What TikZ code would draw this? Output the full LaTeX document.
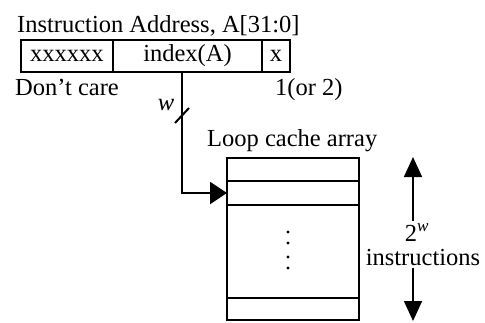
\documentclass[tikz,border=0pt]{standalone}
\usepackage{fontspec}
\setmainfont{Liberation Serif}
\usepackage{tikz}
\usetikzlibrary{calc,arrows.meta,positioning}

\begin{document}
\begin{tikzpicture}[x=1pt,y=-1pt,
    every node/.style={font=\fontsize{24.5}{28}\selectfont, inner sep=0pt},
    field/.style={draw, line width=2pt, outer sep=0pt, minimum height=32pt, anchor=west},
    slot/.style={draw, line width=2pt, outer sep=0pt, minimum width=132pt, anchor=north west},
    wire/.style={line width=2pt},
    darr/.style={line width=1.6pt, -{Triangle[length=20pt,width=18pt]}}]
    \useasboundingbox (0,0) rectangle (485,322);
    \clip (0,0) rectangle (485,322);

    % address bar
    \node[anchor=base west] (title) at (17,32) {Instruction Address, A[31:0]};
    \node[field, minimum width=92pt] (dc) at (21,56) {xxxxxx};
    \node[field, minimum width=149pt, right=0pt of dc] (idx) {index(A)};
    \node[field, minimum width=28pt, right=0pt of idx] (lsb) {x};
    \node[anchor=base west] (dclab) at (15,95) {Don't care};
    \node[anchor=base west] (lsblab) at (275,95) {1(or 2)};

    % loop cache array
    \node[anchor=base west] (arrlab) at (207,146) {Loop cache array};
    \node[slot, minimum height=23pt] (row1) at (227,158) {};
    \node[slot, minimum height=24pt, below=0pt of row1] (row2) {};
    \node[slot, minimum height=93pt, below=0pt of row2] (rows) {};
    \node[slot, minimum height=22pt, below=0pt of rows] (rowN) {};
    \foreach \yy in {232,243,257,268}
        \fill (288,\yy) circle[radius=1.6pt];

    % index bits into the array
    \coordinate (tap) at (182,72);
    \draw[wire, -{Triangle[length=17pt,width=22pt]}] (tap) |- (row2.west);
    \draw[wire] (175,123) -- (189,108);
    \node[font=\fontsize{24.5}{28}\selectfont\itshape] (wlab) at (166,105) {w};

    % array size
    \node[anchor=base] (pow) at (417,241) {2\textsuperscript{\itshape w}};
    \node[anchor=base] (ins) at (423,265) {instructions};
    \coordinate (top) at (413,157);
    \coordinate (bot) at (413,321);
    \draw[darr] (top |- pow.north) ++(0,-3) -- (top);
    \draw[darr] (bot |- ins.south) ++(0,3) -- (bot);
\end{tikzpicture}
\end{document}
